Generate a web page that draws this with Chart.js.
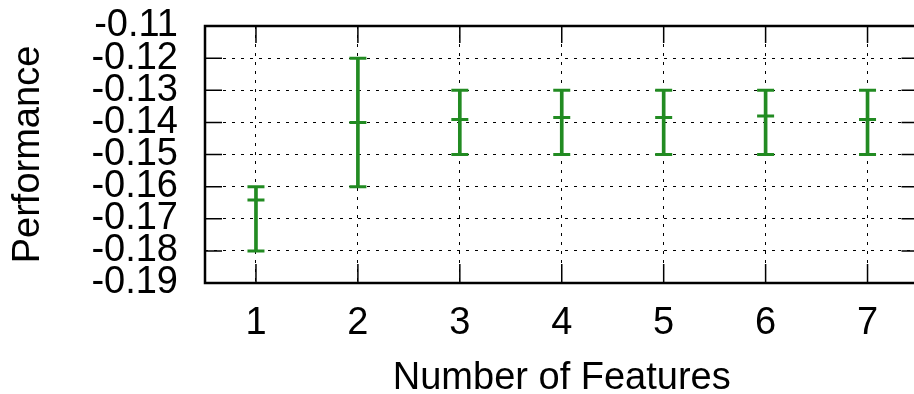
<!DOCTYPE html>
<html lang="en">
<head>
    <meta charset="UTF-8">
    <title>Performance vs number of features</title>
    <script src="https://cdn.jsdelivr.net/npm/chart.js"></script>
    <style>
        body { margin: 0; overflow: hidden; background: #fff; }
    </style>
</head>
<body>
    <canvas id="graph" width="930" height="394"></canvas>
<script>
    // values
    const features = [1, 2, 3, 4, 5, 6, 7];
    const perfMean = [-0.1642, -0.1400, -0.1391, -0.1385, -0.1385, -0.1380, -0.1391];
    const perfLow  = [-0.18, -0.16, -0.15, -0.15, -0.15, -0.15, -0.15];
    const perfHigh = [-0.16, -0.12, -0.13, -0.13, -0.13, -0.13, -0.13];
    const xTicks = [1, 2, 3, 4, 5, 6, 7];
    const yTicks = [-0.19, -0.18, -0.17, -0.16, -0.15, -0.14, -0.13, -0.12, -0.11];

    const green = '#228B22';
    const font = 'Liberation Sans, Arial, Helvetica, sans-serif';

    // gnuplot style frame + inward tick marks
    const frame = {
        id: 'frame',
        beforeDatasetsDraw(chart) {
            const { ctx, chartArea: a, scales: { x, y } } = chart;
            ctx.save();
            ctx.strokeStyle = '#000';
            ctx.lineWidth = 1.5;
            ctx.beginPath();
            yTicks.forEach(v => {
                const p = y.getPixelForValue(v);
                ctx.moveTo(a.left, p); ctx.lineTo(a.left + 17, p);
                ctx.moveTo(a.right, p); ctx.lineTo(a.right - 17, p);
            });
            xTicks.forEach(v => {
                const p = x.getPixelForValue(v);
                ctx.moveTo(p, a.bottom); ctx.lineTo(p, a.bottom - 19);
                ctx.moveTo(p, a.top); ctx.lineTo(p, a.top + 17);
            });
            ctx.stroke();
            ctx.lineWidth = 2.5;
            ctx.strokeRect(a.left, a.top, a.right - a.left, a.bottom - a.top);
            ctx.restore();
        }
    };

    new Chart(document.getElementById('graph'), {
        type: 'scatter',
        data: {
            datasets: [
                {
                    type: 'bar',
                    data: features.map((f, i) => ({ x: f, y: [perfLow[i], perfHigh[i]] })),
                    backgroundColor: green,
                    borderWidth: 0,
                    barThickness: 3
                },
                {
                    data: features.map((f, i) => ({ x: f, y: perfLow[i] })),
                    pointStyle: 'line', pointRadius: 8.5, borderColor: green, borderWidth: 3
                },
                {
                    data: features.map((f, i) => ({ x: f, y: perfHigh[i] })),
                    pointStyle: 'line', pointRadius: 8.5, borderColor: green, borderWidth: 3
                },
                {
                    data: features.map((f, i) => ({ x: f, y: perfMean[i] })),
                    pointStyle: 'line', pointRadius: 8.5, borderColor: green, borderWidth: 3
                }
            ]
        },
        options: {
            responsive: false,
            animation: false,
            layout: { padding: { top: 26, right: 11, left: 0, bottom: 0 } },
            plugins: { legend: { display: false }, tooltip: { enabled: false } },
            scales: {
                x: {
                    type: 'linear',
                    min: 0.5,
                    max: 7.5,
                    offset: false,
                    afterBuildTicks: s => { s.ticks = xTicks.map(v => ({ value: v })); },
                    afterFit: s => { s.height = 111; },
                    grid: { color: '#000', lineWidth: 1, drawTicks: false, offset: false },
                    border: { display: false, dash: [3, 6] },
                    ticks: {
                        color: '#000', padding: 18, autoSkip: false, maxRotation: 0,
                        font: { family: font, size: 38 },
                        callback: v => String(v)
                    },
                    title: {
                        display: true, text: 'Number of Features', color: '#000',
                        font: { family: font, size: 38, lineHeight: 0.84 },
                        padding: 0
                    }
                },
                y: {
                    min: -0.19,
                    max: -0.11,
                    afterBuildTicks: s => { s.ticks = yTicks.map(v => ({ value: v })); },
                    afterFit: s => { s.width = 205; s.paddingTop = 0; s.paddingBottom = 0; },
                    grid: { color: '#000', lineWidth: 1, drawTicks: false },
                    border: { display: false, dash: [3, 6] },
                    ticks: {
                        color: '#000', padding: 27, autoSkip: false,
                        font: { family: font, size: 38, lineHeight: 1 },
                        callback: v => v.toFixed(2)
                    },
                    title: {
                        display: true, text: 'Performance', color: '#000',
                        font: { family: font, size: 38, lineHeight: 1.2 },
                        padding: { top: 6, bottom: 0 }
                    }
                }
            }
        },
        plugins: [frame]
    });
</script>
</body>
</html>
